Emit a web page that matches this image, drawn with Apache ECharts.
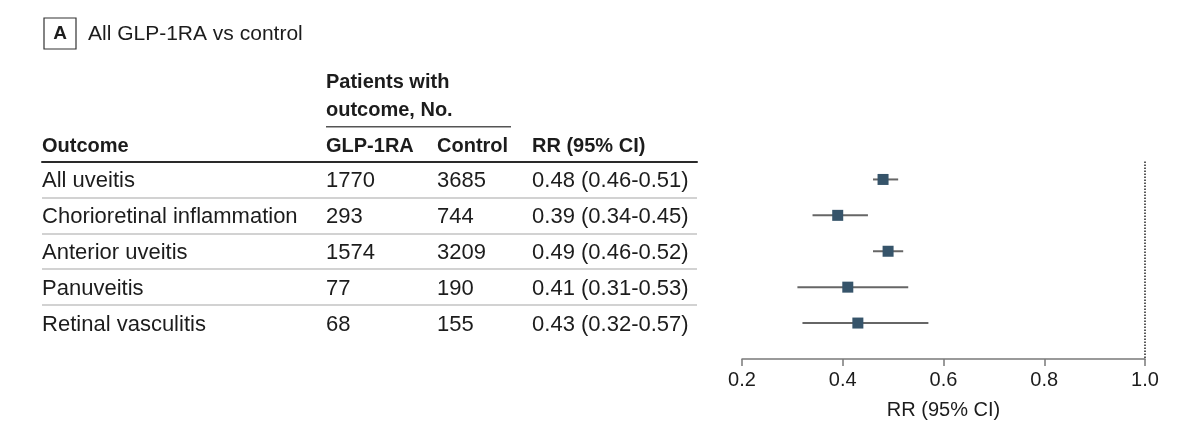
<!DOCTYPE html>
<html>
<head>
<meta charset="utf-8">
<script src="https://cdn.jsdelivr.net/npm/echarts@6/dist/echarts.min.js"></script>
<style>
html,body{margin:0;padding:0;background:#fff;}
#chart{width:1200px;height:435px;}
</style>
</head>
<body>
<div id="chart"></div>
<script>
// ---- data ----
const panelLetter = 'A';
const panelTitle = 'All GLP-1RA vs control';
const groupHeader = ['Patients with', 'outcome, No.'];
const columnHeaders = ['Outcome', 'GLP-1RA', 'Control', 'RR (95% CI)'];
const outcomes = ['All uveitis', 'Chorioretinal inflammation', 'Anterior uveitis', 'Panuveitis', 'Retinal vasculitis'];
const glpCounts = [1770, 293, 1574, 77, 68];
const controlCounts = [3685, 744, 3209, 190, 155];
const rrEstimate = [0.48, 0.39, 0.49, 0.41, 0.43];
const rrLower = [0.46, 0.34, 0.46, 0.31, 0.32];
const rrUpper = [0.51, 0.45, 0.52, 0.53, 0.57];
const xTickLabels = ['0.2', '0.4', '0.6', '0.8', '1.0'];
const xAxisName = 'RR (95% CI)';

// ---- layout ----
const FONT = '"Liberation Sans", Arial, sans-serif';
const TXT = '#1c1c1c';
const rowStep = 35.9;
const gridTop = 161.5;
const colX = [0, 284, 395, 490]; // offsets inside table grid

const fmt = v => v.toFixed(2);
const rrText = outcomes.map((_, i) => fmt(rrEstimate[i]) + ' (' + fmt(rrLower[i]) + '-' + fmt(rrUpper[i]) + ')');

const tableCells = [];
outcomes.forEach((name, i) => {
  tableCells.push({ name: name, value: [colX[0], i] });
  tableCells.push({ name: String(glpCounts[i]), value: [colX[1], i] });
  tableCells.push({ name: String(controlCounts[i]), value: [colX[2], i] });
  tableCells.push({ name: rrText[i], value: [colX[3], i] });
});

const ciData = outcomes.map((_, i) => [i, rrLower[i], rrUpper[i]]);
const pointData = outcomes.map((_, i) => [rrEstimate[i], i]);

const chart = echarts.init(document.getElementById('chart'), null, { renderer: 'canvas' });

const headerText = (text, x, y, bold) => ({
  type: 'text',
  style: {
    text: text, x: x, y: y,
    fontFamily: FONT, fontSize: 20, fontWeight: bold ? 'bold' : 'normal',
    fill: TXT, align: 'left', verticalAlign: 'middle'
  },
  silent: true
});

const option = {
  animation: false,
  backgroundColor: '#fff',
  grid: [
    { left: 42, width: 655, top: gridTop, height: rowStep * 5, outerBoundsMode: 'none' },
    { left: 742, width: 403, top: gridTop, height: rowStep * 5.5, outerBoundsMode: 'none' }
  ],
  xAxis: [
    {
      gridIndex: 0, type: 'value', position: 'top', min: 0, max: 655,
      axisLine: { show: true, onZero: false, lineStyle: { color: '#2a2a2a', width: 2 } },
      axisTick: { show: false }, axisLabel: { show: false }, splitLine: { show: false }
    },
    {
      gridIndex: 1, type: 'value', position: 'bottom', min: 0.2, max: 1.0, interval: 0.2,
      axisLine: { show: true, onZero: false, lineStyle: { color: '#7a7a7a', width: 1.5 } },
      axisTick: { show: true, length: 7, lineStyle: { color: '#7a7a7a', width: 1.5 } },
      axisLabel: {
        margin: 12, fontSize: 20, fontFamily: FONT, color: TXT,
        formatter: v => xTickLabels[Math.round((v - 0.2) / 0.2)]
      },
      splitLine: { show: false },
      name: xAxisName, nameLocation: 'middle', nameGap: 42,
      nameTextStyle: { fontSize: 20, fontFamily: FONT, color: TXT }
    }
  ],
  yAxis: [
    {
      gridIndex: 0, type: 'value', min: -0.5, max: 4.5, interval: 1, inverse: true,
      axisLine: { show: false }, axisTick: { show: false }, axisLabel: { show: false },
      splitLine: { show: true, showMinLine: false, showMaxLine: false, lineStyle: { color: '#d2d2d2', width: 2 } }
    },
    {
      gridIndex: 1, type: 'value', min: -0.5, max: 5, inverse: true,
      axisLine: { show: false }, axisTick: { show: false }, axisLabel: { show: false },
      splitLine: { show: false }
    }
  ],
  series: [
    {
      type: 'scatter', xAxisIndex: 0, yAxisIndex: 0, silent: true,
      symbol: 'circle', symbolSize: 0.1, itemStyle: { color: 'transparent', opacity: 1 },
      label: {
        show: true, position: 'right', distance: 0, offset: [0, 1.5], formatter: '{b}',
        fontSize: 22, fontFamily: FONT, color: TXT, opacity: 1
      },
      data: tableCells
    },
    {
      type: 'custom', xAxisIndex: 1, yAxisIndex: 1, silent: true,
      encode: { x: [1, 2], y: 0 },
      renderItem: function (params, api) {
        const s = api.coord([api.value(1), api.value(0)]);
        const e = api.coord([api.value(2), api.value(0)]);
        return {
          type: 'line',
          shape: { x1: s[0], y1: s[1], x2: e[0], y2: e[1] },
          style: { stroke: '#666', lineWidth: 2 }
        };
      },
      data: ciData,
      z: 2
    },
    {
      type: 'scatter', xAxisIndex: 1, yAxisIndex: 1, silent: true,
      symbol: 'rect', symbolSize: 11,
      itemStyle: { color: '#36546a', opacity: 1 },
      data: pointData,
      z: 3,
      markLine: {
        silent: true, symbol: 'none', label: { show: false },
        lineStyle: { type: 'dotted', color: '#222', width: 1.5 },
        data: [{ xAxis: 1.0 }]
      }
    }
  ],
  graphic: [
    {
      type: 'rect', shape: { x: 44, y: 18, width: 32, height: 31 },
      style: { fill: 'none', stroke: '#333', lineWidth: 1.2 }, silent: true
    },
    {
      type: 'text',
      style: {
        text: panelLetter, x: 60, y: 34, fontFamily: FONT, fontSize: 19, fontWeight: 'bold',
        fill: TXT, align: 'center', verticalAlign: 'middle'
      }, silent: true
    },
    {
      type: 'text',
      style: {
        text: panelTitle, x: 88, y: 34.5, fontFamily: FONT, fontSize: 21,
        fill: TXT, align: 'left', verticalAlign: 'middle'
      }, silent: true
    },
    headerText(groupHeader[0], 326, 82, true),
    headerText(groupHeader[1], 326, 110, true),
    {
      type: 'line', shape: { x1: 326, y1: 126.7, x2: 511, y2: 126.7 },
      style: { stroke: '#555', lineWidth: 1.5 }, silent: true
    },
    headerText(columnHeaders[0], 42, 146, true),
    headerText(columnHeaders[1], 326, 146, true),
    headerText(columnHeaders[2], 437, 146, true),
    headerText(columnHeaders[3], 532, 146, true)
  ]
};

chart.setOption(option);
</script>
</body>
</html>
